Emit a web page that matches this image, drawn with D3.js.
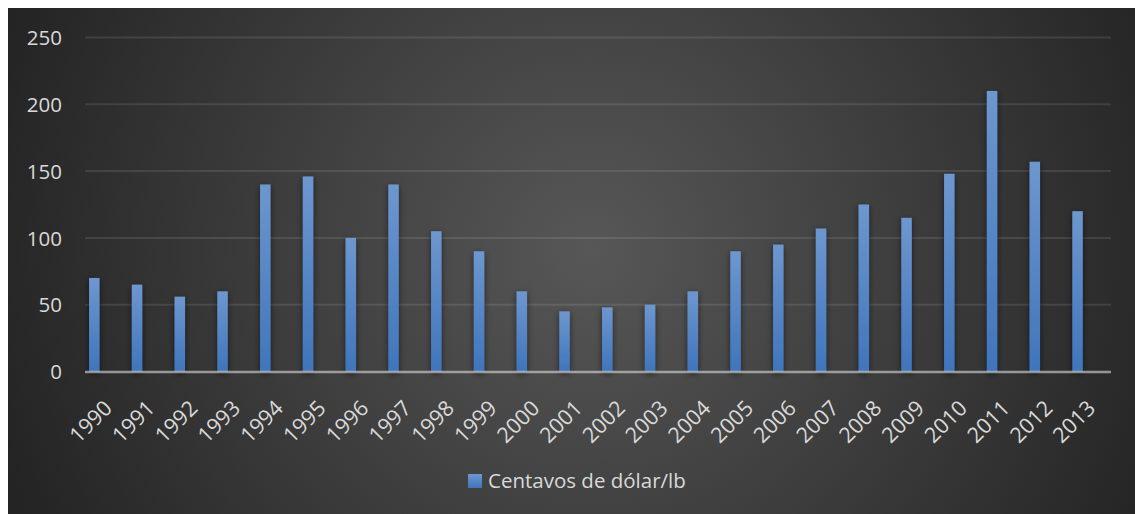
<!DOCTYPE html>
<html>
<head>
<meta charset="utf-8">
<script src="https://cdn.jsdelivr.net/npm/d3@7"></script>
<style>
  body { margin: 0; background: #fff; }
  text { font-family: "Open Sans", sans-serif; fill: #d9d9d9; }
</style>
</head>
<body>
<script>
// data
const anos = ["1990","1991","1992","1993","1994","1995","1996","1997","1998","1999","2000","2001",
              "2002","2003","2004","2005","2006","2007","2008","2009","2010","2011","2012","2013"];
const centavos = [70, 65, 56, 60, 140, 146, 100, 140, 105, 90, 60, 45,
                  48, 50, 60, 90, 95, 107, 125, 115, 148, 210, 157, 120];
const ticksY = [0, 50, 100, 150, 200, 250];
const nomeSerie = "Centavos de dólar/lb";

const largeur = 1135, hauteur = 514;

const svg = d3.select("body").append("svg")
  .attr("width", largeur)
  .attr("height", hauteur);

const defs = svg.append("defs");

const fond = defs.append("radialGradient")
  .attr("id", "fond")
  .attr("gradientUnits", "userSpaceOnUse")
  .attr("cx", 590).attr("cy", 250).attr("r", 620);
fond.append("stop").attr("offset", "0").attr("stop-color", "#575757");
fond.append("stop").attr("offset", "1").attr("stop-color", "#242424");

const bleu = defs.append("linearGradient")
  .attr("id", "bleu")
  .attr("x1", 0).attr("y1", 0).attr("x2", 0).attr("y2", 1);
bleu.append("stop").attr("offset", "0").attr("stop-color", "#6d97cf");
bleu.append("stop").attr("offset", "1").attr("stop-color", "#3f75bc");

const ombre = defs.append("filter")
  .attr("id", "ombre")
  .attr("x", "-100%").attr("y", "-10%").attr("width", "300%").attr("height", "120%");
ombre.append("feDropShadow")
  .attr("dx", 0).attr("dy", 2)
  .attr("stdDeviation", 3)
  .attr("flood-color", "#000")
  .attr("flood-opacity", 0.55);

// background
svg.append("rect")
  .attr("x", 8).attr("y", 8)
  .attr("width", largeur - 8).attr("height", hauteur - 8)
  .attr("fill", "url(#fond)");

const x = d3.scaleBand().domain(anos).range([85, 1111]).padding(0);
const y = d3.scaleLinear().domain([0, 250]).range([371.5, 37.5]);

// gridlines
svg.append("g")
  .selectAll("line")
  .data(ticksY.filter(d => d > 0))
  .join("line")
  .attr("x1", 85).attr("x2", 1111)
  .attr("y1", d => y(d)).attr("y2", d => y(d))
  .attr("stroke", "rgba(255,255,255,0.1)")
  .attr("stroke-width", 2);

// y axis labels
const axeY = d3.axisLeft(y).tickValues(ticksY).tickSize(0).tickPadding(0);
svg.append("g")
  .attr("transform", "translate(62,0)")
  .call(axeY)
  .call(g => g.select(".domain").remove())
  .selectAll("text")
  .attr("font-size", "20.5px")
  .attr("fill", "#d9d9d9")
  .attr("dy", "0.35em");

// bars
const bw = x.bandwidth();
svg.append("g")
  .selectAll("rect")
  .data(anos.map((a, i) => ({ ano: a, valor: centavos[i] })))
  .join("rect")
  .attr("x", d => x(d.ano) + bw * 0.095)
  .attr("width", bw * 0.245)
  .attr("y", d => y(d.valor))
  .attr("height", d => y(0) - y(d.valor))
  .attr("fill", "url(#bleu)")
  .attr("filter", "url(#ombre)");

// x axis line
svg.append("line")
  .attr("x1", 85).attr("x2", 1111)
  .attr("y1", y(0) + 0.5).attr("y2", y(0) + 0.5)
  .attr("stroke", "rgba(220,220,220,0.6)")
  .attr("stroke-width", 2.5);

// x labels
const axeX = d3.axisBottom(x).tickSize(0).tickPadding(0);
svg.append("g")
  .attr("transform", `translate(0,${y(0)})`)
  .call(axeX)
  .call(g => g.select(".domain").remove())
  .selectAll("text")
  .attr("font-size", "21.5px")
  .attr("fill", "#d9d9d9")
  .attr("text-anchor", "end")
  .attr("dy", null)
  .attr("y", 0)
  .attr("transform", "translate(7,38) rotate(-45)");

// legend
const legende = svg.append("g");
legende.append("rect")
  .attr("x", 468).attr("y", 474)
  .attr("width", 14).attr("height", 14)
  .attr("fill", "url(#bleu)");
legende.append("text")
  .attr("x", 488).attr("y", 488)
  .attr("font-size", "20.5px")
  .text(nomeSerie);
</script>
</body>
</html>
